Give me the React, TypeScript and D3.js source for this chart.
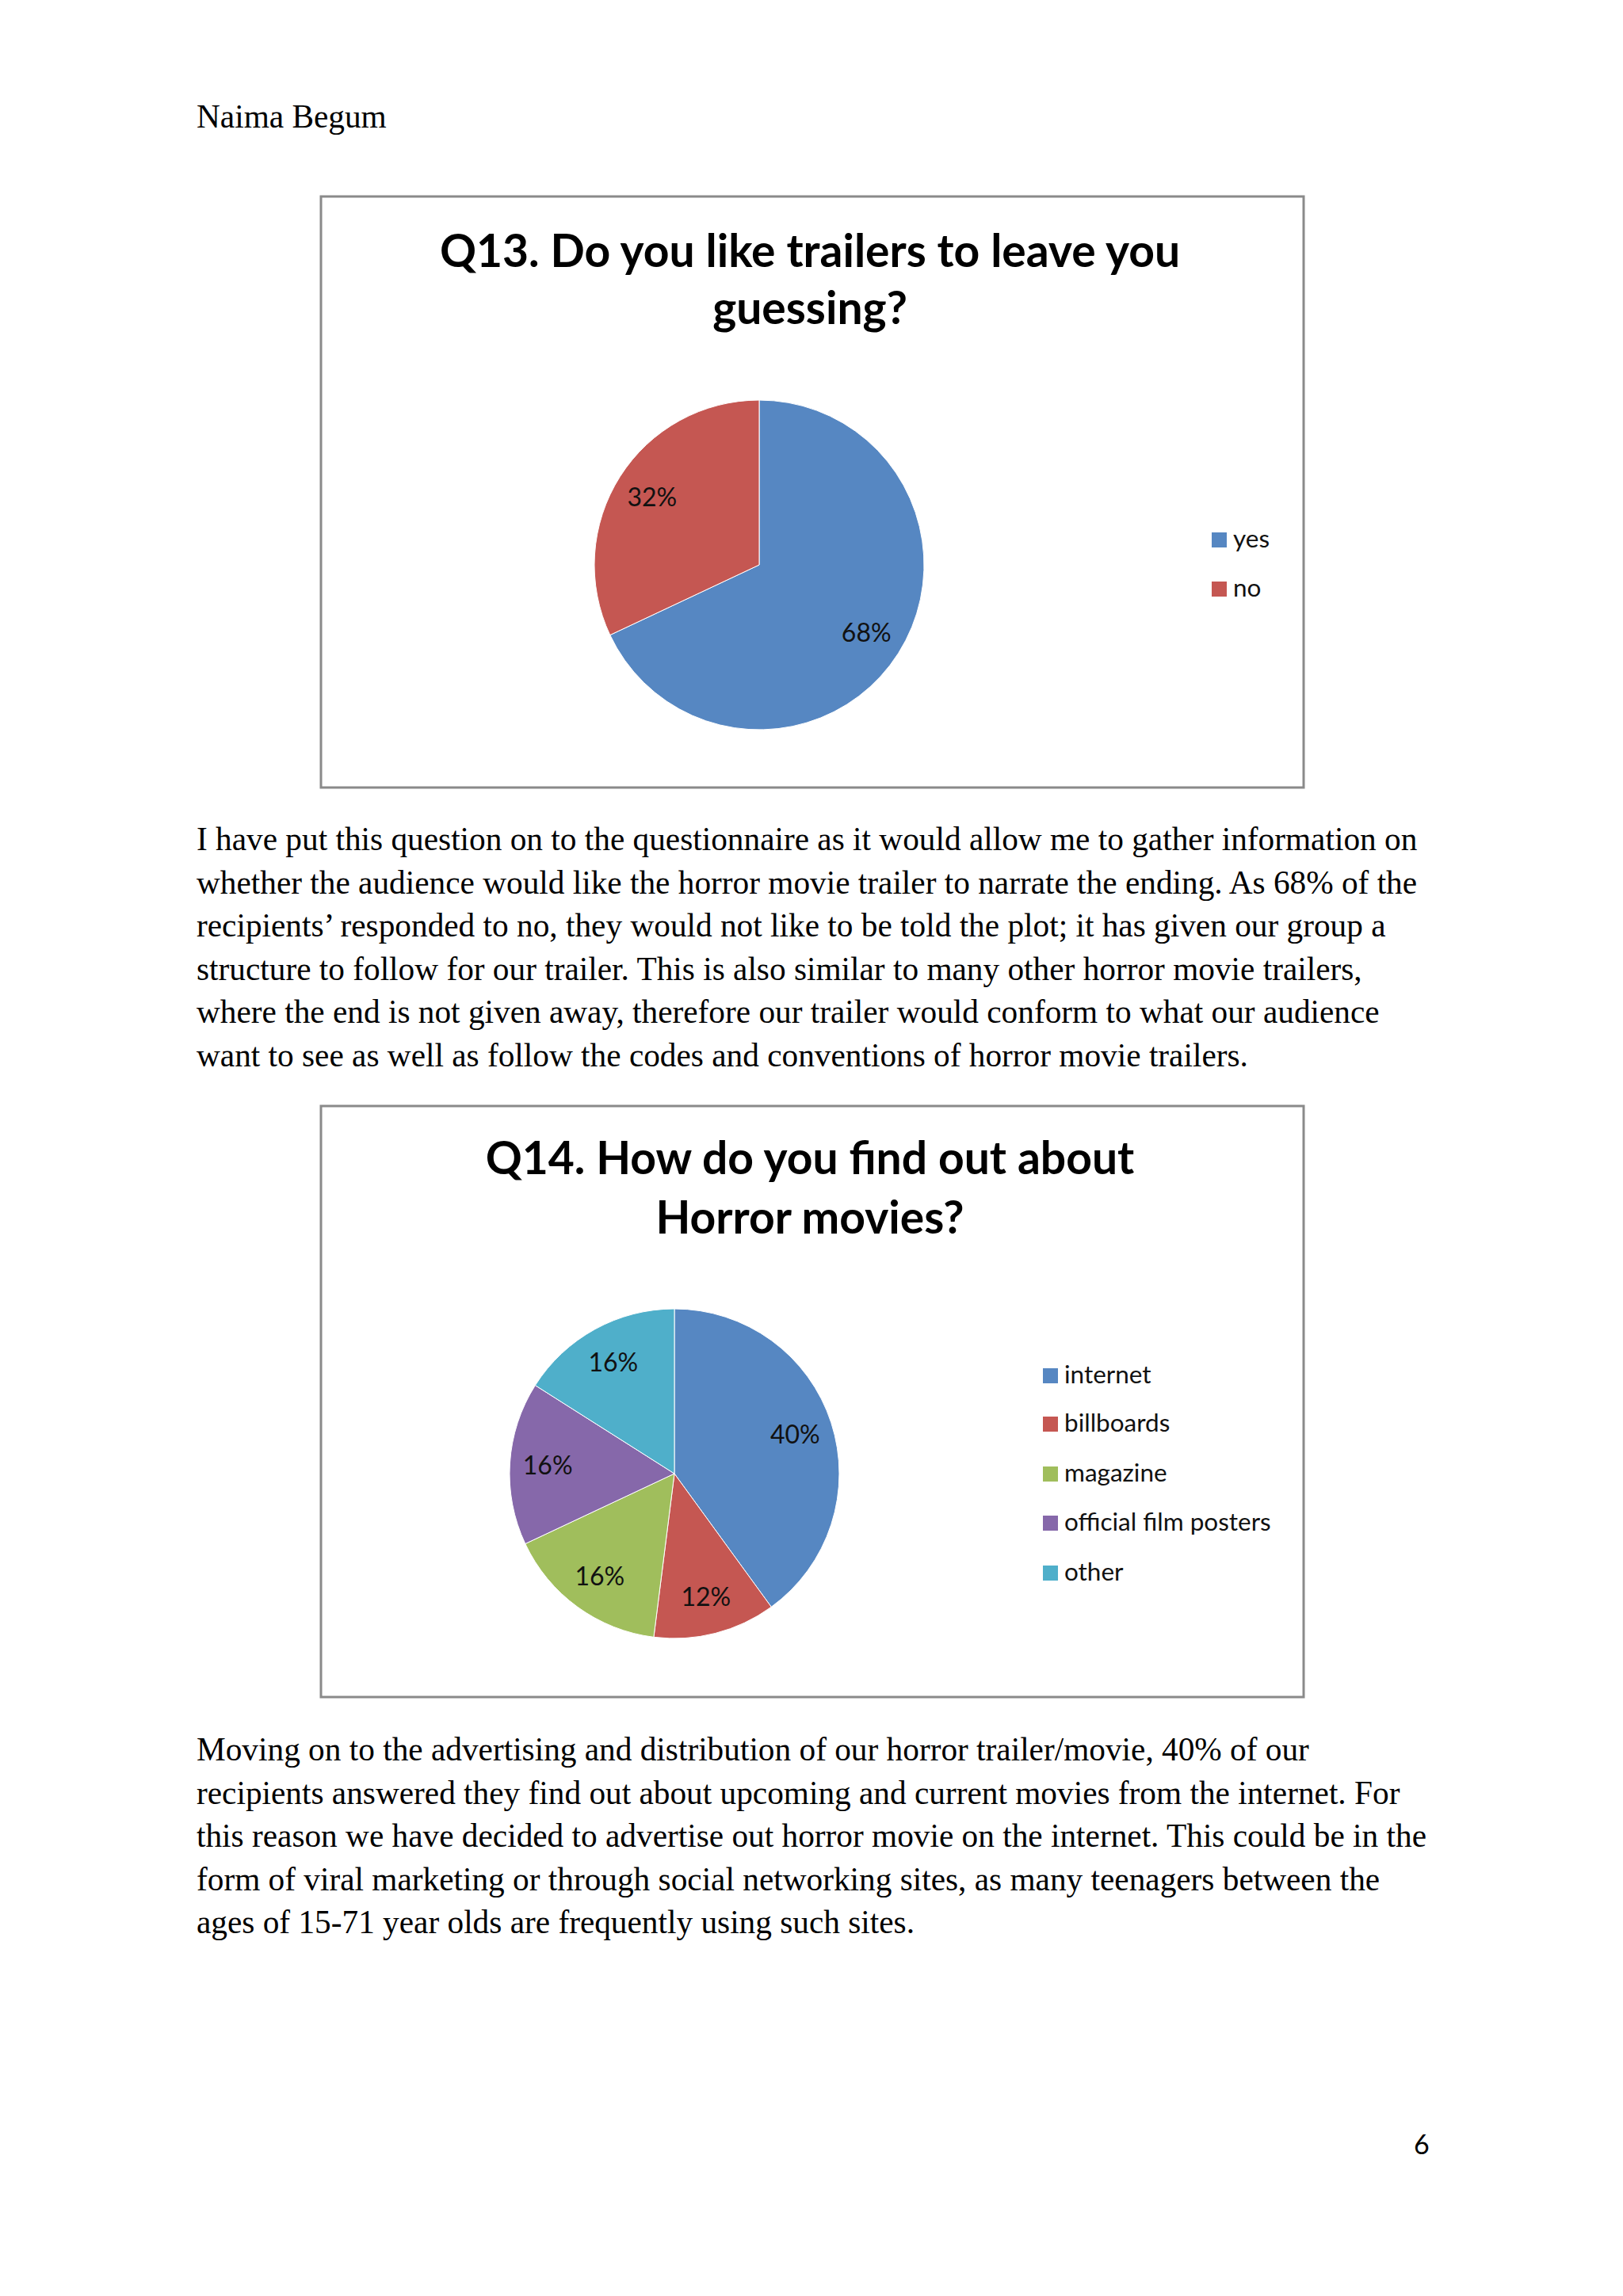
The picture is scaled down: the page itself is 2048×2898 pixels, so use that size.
import * as d3 from "d3";

// Q13 data
const q13Labels = ["yes", "no"];
const q13Values = [68, 32];

// Q14 data
const q14Labels = ["internet", "billboards", "magazine", "official film posters", "other"];
const q14Values = [40, 12, 16, 16, 16];

const palette = ["#5687c2", "#c55752", "#a0be5c", "#8668aa", "#4fafca"];

const q13Title = ["Q13. Do you like trailers to leave you", "guessing?"];
const q14Title = ["Q14. How do you find out about", "Horror movies?"];

const paragraphOne = [
  "I have put this question on to the questionnaire as it would allow me to gather information on",
  "whether the audience would like the horror movie trailer to narrate the ending. As 68% of the",
  "recipients\u2019 responded to no, they would not like to be told the plot; it has given our group a",
  "structure to follow for our trailer. This is also similar to many other horror movie trailers,",
  "where the end is not given away, therefore our trailer would conform to what our audience",
  "want to see as well as follow the codes and conventions of horror movie trailers."
];

const paragraphTwo = [
  "Moving on to the advertising and distribution of our horror trailer/movie, 40% of our",
  "recipients answered they find out about upcoming and current movies from the internet. For",
  "this reason we have decided to advertise out horror movie on the internet. This could be in the",
  "form of viral marketing or through social networking sites, as many teenagers between the",
  "ages of 15-71 year olds are frequently using such sites."
];

const width = 2048;
const height = 2898;
const serif = "'Liberation Serif', 'Times New Roman', serif";
const sans = "Lato, 'Noto Sans', sans-serif";

type PieProps = {
  top: number;
  labels: string[];
  values: number[];
  title: string[];
  titleBaselines: [number, number];
  center: [number, number];
  legendX: number;
  legendY: number[];
};

function PieCard({ top, labels, values, title, titleBaselines, center, legendX, legendY }: PieProps) {
  const frame = { x: 405, y: top, w: 1240, h: 746 };
  const radius = 208;
  const total = d3.sum(values);
  const slices = d3.pie<number>().sort(null).value((v) => v)(values);
  const arc = d3.arc<d3.PieArcDatum<number>>().innerRadius(0).outerRadius(radius);
  const labelArc = d3.arc<d3.PieArcDatum<number>>().innerRadius(radius * 0.77).outerRadius(radius * 0.77);

  return (
    <g>
      <rect x={frame.x} y={frame.y} width={frame.w} height={frame.h} fill="#fff" stroke="#8a8a8a" strokeWidth={3} />
      {title.map((line, i) => (
        <text key={line} x={1022} y={titleBaselines[i]} textAnchor="middle" fontFamily={sans} fontWeight={700} fontSize={57} fill="#000">
          {line}
        </text>
      ))}
      <g transform={`translate(${center[0]},${center[1]})`}>
        {slices.map((s, i) => (
          <path key={labels[i]} d={arc(s) ?? undefined} fill={palette[i]} stroke="#fff" strokeWidth={1} />
        ))}
        {slices.map((s, i) => {
          const [lx, ly] = labelArc.centroid(s);
          return (
            <text key={labels[i]} x={lx} y={ly} dy="0.36em" textAnchor="middle" fontFamily={sans} fontSize={32} fill="#111">
              {`${Math.round((s.value / total) * 100)}%`}
            </text>
          );
        })}
      </g>
      {labels.map((label, i) => (
        <g key={label}>
          <rect x={legendX} y={legendY[i] - 19} width={19} height={19} fill={palette[i]} />
          <text x={legendX + 27} y={legendY[i]} fontFamily={sans} fontSize={31.5} fill="#111">
            {label}
          </text>
        </g>
      ))}
    </g>
  );
}

export default function App() {
  const lineGap = 54.6;
  return (
    <svg width={width} height={height} viewBox={`0 0 ${width} ${height}`} style={{ position: "absolute", left: 0, top: 0, background: "#fff" }}>
      <rect width={width} height={height} fill="#fff" />
      <text x={248} y={161} fontFamily={serif} fontSize={41.3} fill="#000">
        Naima Begum
      </text>

      <PieCard
        top={248}
        labels={q13Labels}
        values={q13Values}
        title={q13Title}
        titleBaselines={[337, 409]}
        center={[958, 713]}
        legendX={1529}
        legendY={[691, 753]}
      />

      {paragraphOne.map((line, i) => (
        <text key={i} x={248} y={1073 + i * lineGap} fontFamily={serif} fontSize={41.3} fill="#000">
          {line}
        </text>
      ))}

      <PieCard
        top={1396}
        labels={q14Labels}
        values={q14Values}
        title={q14Title}
        titleBaselines={[1482, 1557]}
        center={[851, 1860]}
        legendX={1316}
        legendY={[1746, 1807, 1870, 1932, 1995]}
      />

      {paragraphTwo.map((line, i) => (
        <text key={i} x={248} y={2222 + i * lineGap} fontFamily={serif} fontSize={41.3} fill="#000">
          {line}
        </text>
      ))}

      <text x={1784} y={2719} fontFamily={sans} fontSize={34} fill="#000">
        6
      </text>
    </svg>
  );
}
